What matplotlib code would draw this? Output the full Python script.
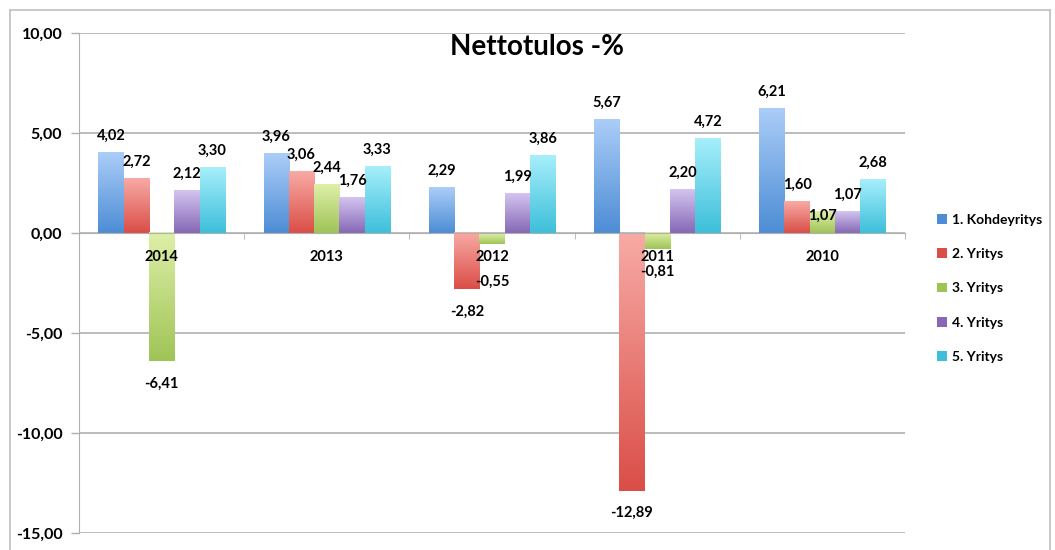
import matplotlib
matplotlib.use("Agg")
import matplotlib.pyplot as plt
import numpy as np
from matplotlib.colors import LinearSegmentedColormap
from matplotlib.patches import Patch
from matplotlib.lines import Line2D

plt.rcParams['font.family'] = ['Lato', 'DejaVu Sans']
plt.rcParams['font.weight'] = 'bold'

years = ['2014', '2013', '2012', '2011', '2010']
series_names = ['1. Kohdeyritys', '2. Yritys', '3. Yritys', '4. Yritys', '5. Yritys']
kohdeyritys = [4.02, 3.96, 2.29, 5.67, 6.21]
yritys2 = [2.72, 3.06, -2.82, -12.89, 1.60]
yritys3 = [-6.41, 2.44, -0.55, -0.81, 1.07]
yritys4 = [2.12, 1.76, 1.99, 2.20, 1.07]
yritys5 = [3.30, 3.33, 3.86, 4.72, 2.68]
values = [kohdeyritys, yritys2, yritys3, yritys4, yritys5]

# (light top, dark bottom) gradient per series
grads = [('#abcdf8', '#4d8dd5'), ('#f8aaa5', '#da4e47'), ('#deefa8', '#9fc456'),
         ('#d4c4f0', '#8668b5'), ('#a6effb', '#3dbfda')]

# Excel shuffles a few labels to avoid collisions (series, category) -> extra offset in pt
nudge = {(2, 2): -11, (2, 4): -15}

fig = plt.figure(figsize=(10.55, 5.5), dpi=100)
ax = fig.add_axes([79/1055, 17/550, 826/1055, 500/550])

n = len(series_names)
w = 25.3 / 165.2
x = np.arange(len(years))
grad_img = np.linspace(0, 1, 128).reshape(-1, 1)

for s, vals in enumerate(values):
    cmap = LinearSegmentedColormap.from_list('g%d' % s, grads[s])
    for i, v in enumerate(vals):
        xc = x[i] + (s - (n - 1) / 2) * w
        lo, hi = min(0, v), max(0, v)
        ax.imshow(grad_img, cmap=cmap, extent=[xc - w/2, xc + w/2, lo, hi],
                  origin='upper', aspect='auto', zorder=2, interpolation='bilinear')
        lab = ('%.2f' % v).replace('.', ',')
        off = 12 if v >= 0 else -16
        off += nudge.get((s, i), 0)
        ax.annotate(lab, (xc, v), xytext=(0, off), textcoords='offset points',
                    ha='center', va='center', fontsize=10.5, fontweight='bold', zorder=6)

for i, yr in enumerate(years):
    ax.annotate(yr, (x[i], 0), xytext=(0, -17), textcoords='offset points',
                ha='center', va='center', fontsize=10.5, fontweight='bold', zorder=7)

ax.set_xlim(-0.5, len(years) - 0.5)
ax.set_ylim(-15, 10)
ax.set_yticks(np.arange(-15, 11, 5))
ax.set_yticklabels([('%.2f' % t).replace('.', ',') for t in np.arange(-15, 11, 5)])
ax.tick_params(axis='y', length=6, width=1, color='#b0b0b0', pad=6, labelsize=11.5)
ax.set_axisbelow(True)
ax.yaxis.grid(True, color='#b0b0b0', linewidth=1.2)

ax.spines['top'].set_visible(False)
ax.spines['right'].set_visible(False)
ax.spines['left'].set_color('#b0b0b0')
ax.spines['bottom'].set_position(('data', 0))
ax.spines['bottom'].set_color('#b0b0b0')
ax.set_xticks([])
ax.set_xticks(np.arange(-0.5, len(years)), minor=True)
ax.tick_params(axis='x', which='minor', length=4, color='#b0b0b0')

fig.text(537/1055, 1 - 47/550, 'Nettotulos -%', ha='center', va='center',
         fontsize=20, fontweight='bold')

handles = [Patch(facecolor=grads[s][1], edgecolor='none') for s in range(n)]
fig.legend(handles, series_names, loc='upper left', bbox_to_anchor=(930/1055, 1 - 207/550),
           frameon=False, fontsize=10, handlelength=0.7, handleheight=0.7,
           handletextpad=0.4, labelspacing=1.6, borderpad=0)

# outer chart frame
fr = '#c0c0c0'
fig.add_artist(Line2D([10/1055, 10/1055], [0, 1 - 10/550], color=fr, lw=1.2))
fig.add_artist(Line2D([10/1055, 1050/1055], [1 - 10/550, 1 - 10/550], color=fr, lw=1.2))
fig.add_artist(Line2D([1050/1055, 1050/1055], [0, 1 - 10/550], color=fr, lw=1.2))

fig.savefig('out.png', dpi=100)
